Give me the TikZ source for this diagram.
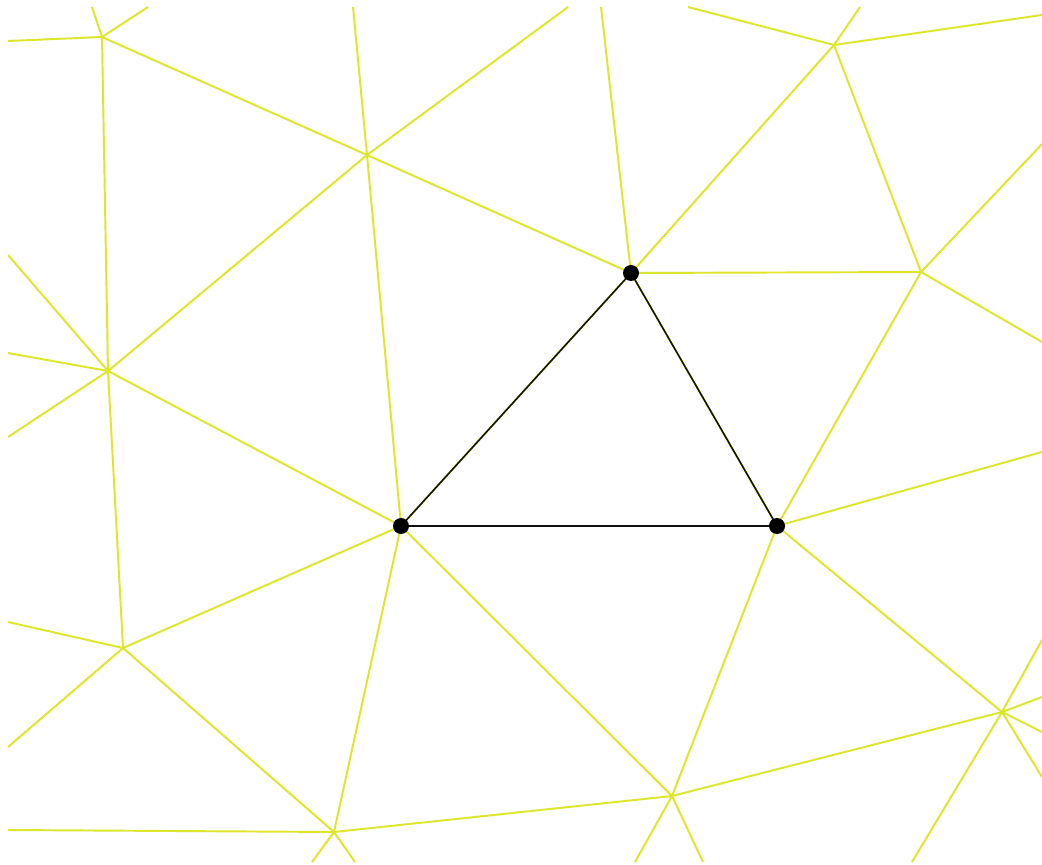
\documentclass[tikz,border=0pt]{standalone}
\usepackage{tikz}
\usetikzlibrary{positioning}
\definecolor{MeshYellow}{HTML}{DDE628}
\definecolor{PatchBlack}{HTML}{111111}

\tikzset{
  meshedge/.style={draw=MeshYellow,line width=1.1pt},
  patchedge/.style={draw=PatchBlack,line width=0.9pt},
  vertexdot/.style={circle,fill=black,inner sep=0pt,minimum size=0.32cm}
}

\begin{document}
\begin{tikzpicture}[x=0.02cm,y=-0.02cm]
                \useasboundingbox (0,0) rectangle (1042,865);
                \fill[white] (0,0) rectangle (1042,865);

                % Mesh vertices
                \coordinate (a) at (102,37);
                \coordinate (b) at (367,155);
                \coordinate (c) at (631,273);
                \coordinate (d) at (834,45);
                \coordinate (e) at (921,272);
                \coordinate (f) at (108,371);
                \coordinate (g) at (401,526);
                \coordinate (h) at (777,526);
                \coordinate (i) at (123,648);
                \coordinate (j) at (334,832);
                \coordinate (k) at (672,796);
                \coordinate (l) at (1002,712);

                % Free ends on the border
                \coordinate (a1) at (8,41);    \coordinate (a2) at (92,7);    \coordinate (a3) at (148,7);
                \coordinate (b1) at (353,7);   \coordinate (b2) at (568,7);
                \coordinate (c1) at (601,7);
                \coordinate (d1) at (688,7);   \coordinate (d2) at (860,7);   \coordinate (d3) at (1042,15);
                \coordinate (e1) at (1042,144); \coordinate (e2) at (1042,342);
                \coordinate (f1) at (8,255);   \coordinate (f2) at (8,353);   \coordinate (f3) at (8,437);
                \coordinate (h1) at (1042,452);
                \coordinate (i1) at (8,622);   \coordinate (i2) at (8,747);
                \coordinate (j1) at (8,830);   \coordinate (j2) at (312,862); \coordinate (j3) at (355,862);
                \coordinate (k1) at (635,862); \coordinate (k2) at (703,862);
                \coordinate (l1) at (1042,640); \coordinate (l2) at (1042,697); \coordinate (l3) at (1042,732);
                \coordinate (l4) at (1042,777); \coordinate (l5) at (912,862);

                % Yellow mesh
                \begin{scope}
                \clip (8,7) rectangle (1042,862);
                \foreach \p/\q in {a/b,a/f,b/c,b/g,b/f,c/d,c/e,c/g,c/h,d/e,e/h,
                                   f/g,f/i,g/i,g/j,g/k,g/h,h/k,h/l,i/j,j/k,k/l}
                    \draw[meshedge] (\p) -- (\q);
                \foreach \p/\q in {a/a1,a/a2,a/a3,b/b1,b/b2,c/c1,d/d1,d/d2,d/d3,
                                   e/e1,e/e2,f/f1,f/f2,f/f3,h/h1,i/i1,i/i2,
                                   j/j1,j/j2,j/j3,k/k1,k/k2,l/l1,l/l2,l/l3,l/l4,l/l5}
                    \draw[meshedge] (\p) -- (\q);
                \end{scope}

                % Black triangle
                \draw[patchedge] (c) -- (g) -- (h) -- cycle;
                \node[vertexdot] (top) at (c) {};
                \node[vertexdot] (left) at (g) {};
                \node[vertexdot] (right) at (h) {};
            \end{tikzpicture}
\end{document}
